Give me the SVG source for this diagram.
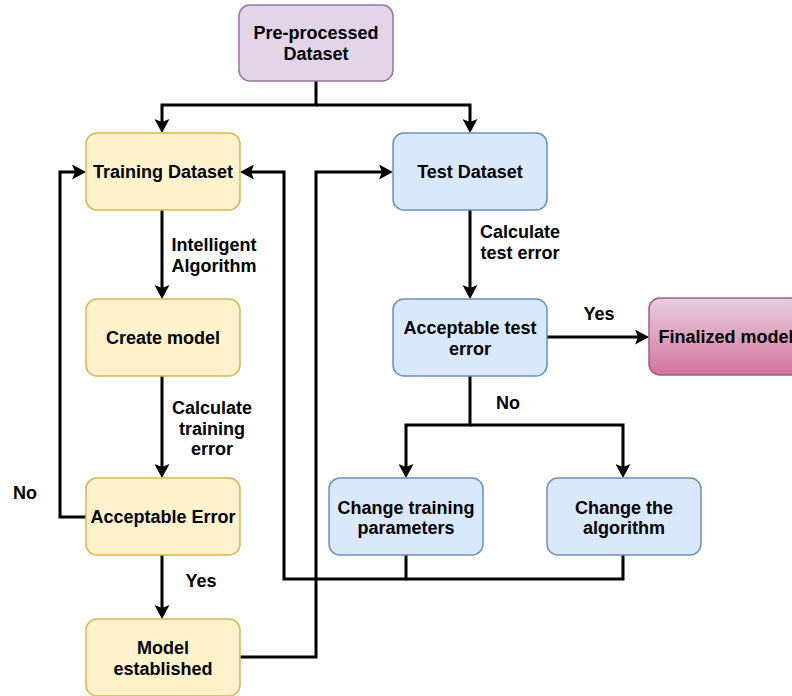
<svg xmlns="http://www.w3.org/2000/svg" width="792" height="696" viewBox="0 0 792 696">
<defs>
<style>
.n text{font-family:"Liberation Sans",Arial,sans-serif;font-weight:bold;font-size:18px;fill:#000;text-anchor:middle}
.lbl{font-family:"Liberation Sans",Arial,sans-serif;font-weight:bold;font-size:18px;fill:#000;text-anchor:middle}
.y rect{fill:#fff2cc;stroke:#d6b656;stroke-width:1.5}
.b rect{fill:#dae8fc;stroke:#6c8ebf;stroke-width:1.5}
.e path{fill:none;stroke:#000;stroke-width:3;stroke-linejoin:miter}
.a{marker-end:url(#arr)}
</style>
<marker id="arr" viewBox="0 0 14 15" markerWidth="14" markerHeight="15" refX="3" refY="7.5" orient="auto" markerUnits="userSpaceOnUse">
<path d="M0,0 L14,7.5 L0,15 L3,7.5 z" fill="#000"/>
</marker>
<linearGradient id="pink" x1="0" y1="0" x2="0" y2="1">
<stop offset="0" stop-color="#e6d0de"/>
<stop offset="1" stop-color="#d5739d"/>
</linearGradient>
</defs>
<g id="connectors" class="e">
<path class="a" d="M316,81 V105 H162 V122"/>
<path class="a" d="M316,105 H470 V122"/>
<path class="a" d="M162,210 V288"/>
<path class="a" d="M162,376 V467"/>
<path class="a" d="M162,555 V608"/>
<path class="a" d="M86,517 H60 V172 H75"/>
<path class="a" d="M240,657 H316 V172 H382"/>
<path class="a" d="M406,555 V579 H284 V172 H251"/>
<path d="M623,555 V579 H406"/>
<path class="a" d="M470,210 V288"/>
<path class="a" d="M547,337 H638"/>
<path class="a" d="M470,376 V425 H406 V467"/>
<path class="a" d="M470,425 H623 V467"/>
</g>
<g id="edge-labels">
<text class="lbl" x="214" y="251">Intelligent</text>
<text class="lbl" x="214" y="272">Algorithm</text>
<text class="lbl" x="212" y="414">Calculate</text>
<text class="lbl" x="212" y="435">training</text>
<text class="lbl" x="212" y="455">error</text>
<text class="lbl" x="201" y="587">Yes</text>
<text class="lbl" x="25" y="499">No</text>
<text class="lbl" x="520" y="238">Calculate</text>
<text class="lbl" x="520" y="259">test error</text>
<text class="lbl" x="599" y="320">Yes</text>
<text class="lbl" x="508" y="409">No</text>
</g>
<g id="preprocessed" class="n">
<rect x="239" y="5" width="154" height="76" rx="11" fill="#e1d5e7" stroke="#9673a6" stroke-width="1.5"/>
<text x="316" y="39">Pre-processed</text>
<text x="316" y="60">Dataset</text>
</g>
<g id="training" class="n y">
<rect x="86" y="133" width="154" height="77" rx="11"/>
<text x="163" y="178">Training Dataset</text>
</g>
<g id="test" class="n b">
<rect x="393" y="133" width="154" height="77" rx="11"/>
<text x="470" y="178">Test Dataset</text>
</g>
<g id="create" class="n y">
<rect x="86" y="299" width="154" height="77" rx="11"/>
<text x="163" y="344">Create model</text>
</g>
<g id="accerr" class="n y">
<rect x="86" y="478" width="154" height="77" rx="11"/>
<text x="163" y="523">Acceptable Error</text>
</g>
<g id="established" class="n y">
<rect x="86" y="619" width="154" height="77" rx="11"/>
<text x="163" y="654">Model</text>
<text x="163" y="675">established</text>
</g>
<g id="acctest" class="n b">
<rect x="393" y="299" width="154" height="77" rx="11"/>
<text x="470" y="334">Acceptable test</text>
<text x="470" y="355">error</text>
</g>
<g id="finalized" class="n">
<rect x="649" y="298" width="154" height="77" rx="11" fill="url(#pink)" stroke="#996185" stroke-width="1.5"/>
<text x="726" y="343">Finalized model</text>
</g>
<g id="changeparams" class="n b">
<rect x="329" y="478" width="154" height="77" rx="11"/>
<text x="406" y="514">Change training</text>
<text x="406" y="534">parameters</text>
</g>
<g id="changealgo" class="n b">
<rect x="547" y="478" width="154" height="77" rx="11"/>
<text x="624" y="514">Change the</text>
<text x="624" y="534">algorithm</text>
</g>
</svg>
